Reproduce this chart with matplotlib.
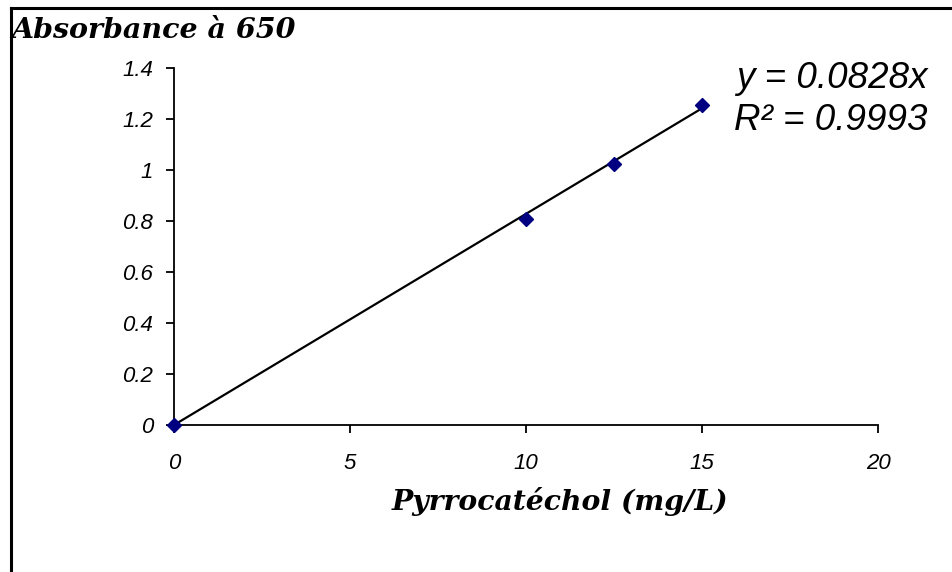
import matplotlib
matplotlib.use("Agg")
import matplotlib.pyplot as plt
from matplotlib.lines import Line2D
import numpy as np

# Calibration data: pyrocatechol concentration vs absorbance at 650 nm
concentration = [0, 10, 12.5, 15]
absorbance = [0.0, 0.808, 1.025, 1.254]
slope = 0.0828
r_squared = 0.9993

x_ticks = [0, 5, 10, 15, 20]
y_ticks = [0, 0.2, 0.4, 0.6, 0.8, 1.0, 1.2, 1.4]
y_tick_labels = ["0", "0.2", "0.4", "0.6", "0.8", "1", "1.2", "1.4"]

W, H = 952, 572
fig = plt.figure(figsize=(W / 100, H / 100), dpi=100)
fig.patch.set_facecolor("white")

ax = fig.add_axes([174 / W, 1 - 425 / H, (878 - 174) / W, (425 - 68) / H])
ax.set_xlim(0, 20)
ax.set_ylim(0, 1.4)

# linear trendline through the origin
fit_x = np.array([0, max(concentration)])
ax.plot(fit_x, slope * fit_x, color="black", lw=1.6, zorder=2, clip_on=False)
ax.plot(concentration, absorbance, linestyle="none", marker="D", markersize=7.5,
        color="#000080", markeredgecolor="#000080", zorder=3, clip_on=False)

for side in ("top", "right"):
    ax.spines[side].set_visible(False)
for side in ("left", "bottom"):
    ax.spines[side].set_linewidth(1.3)

tick_font = dict(family="Liberation Sans", style="italic", size=16)
ax.set_xticks(x_ticks)
ax.set_xticklabels([str(v) for v in x_ticks], fontdict=tick_font)
ax.set_yticks(y_ticks)
ax.set_yticklabels(y_tick_labels, fontdict=tick_font)
ax.tick_params(axis="x", direction="out", length=6, width=1.3, pad=14)
ax.tick_params(axis="y", direction="out", length=6, width=1.3, pad=9)

serif = dict(family="DejaVu Serif", style="italic", weight="bold")
fig.text(11 / W, 1 - 30 / H, "Absorbance à 650", ha="left", va="center",
         fontsize=20.5, **serif)
fig.text(560 / W, 1 - 502 / H, "Pyrrocatéchol (mg/L)", ha="center", va="center",
         fontsize=20.3, **serif)

eq_font = dict(family="Liberation Sans", style="italic", fontsize=26.5)
fig.text(736 / W, 1 - 79 / H, f"y = {slope}x", ha="left", va="center", **eq_font)
fig.text(734 / W, 1 - 121 / H, f"R² = {r_squared}", ha="left", va="center", **eq_font)

# outer frame (top and left edges)
fig.add_artist(Line2D([10.5 / W, 1.0], [1 - 7.5 / H, 1 - 7.5 / H],
                      transform=fig.transFigure, color="black", lw=2.2))
fig.add_artist(Line2D([10.5 / W, 10.5 / W], [0, 1 - 7.5 / H],
                      transform=fig.transFigure, color="black", lw=2.2))

fig.savefig("out.png", dpi=100, facecolor="white")
